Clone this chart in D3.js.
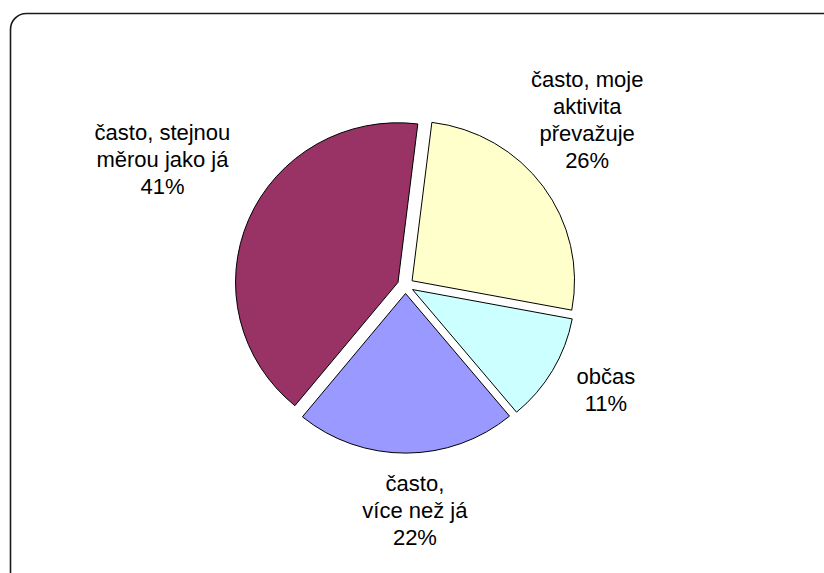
<!DOCTYPE html>
<html>
<head>
<meta charset="utf-8">
<script src="https://cdn.jsdelivr.net/npm/d3@7/dist/d3.min.js"></script>
<style>
  html, body { margin: 0; padding: 0; background: #fff; }
  svg { display: block; }
  text { font-family: "Liberation Sans", Arial, sans-serif; fill: #000; }
</style>
</head>
<body>
<svg id="chart" width="824" height="573"></svg>
<script>
// Slice categories, in drawing order (clockwise from the top)
const categories = [
  "často, moje aktivita převažuje",
  "občas",
  "často, více než já",
  "často, stejnou měrou jako já"
];
// Share of answers, percent
const values = [26, 11, 22, 41];
// Label text broken into lines
const labelLines = [
  ["často, moje", "aktivita", "převažuje"],
  ["občas"],
  ["často,", "více než já"],
  ["často, stejnou", "měrou jako já"]
];
const colors = ["#FFFFCC", "#CCFFFF", "#9999FF", "#993366"];

const width = 824, height = 573;
const cx = 405.5, cy = 285.5;
const radius = 159.6;
const stretchX = 1.018;          // pie is drawn very slightly wider than tall
const explode = 8;               // every slice is pulled out from the centre
const startDeg = 7;              // rotation of the first slice
const fontSize = 22, lineH = 26.8;

const svg = d3.select("#chart");

// outer rounded frame
svg.append("rect")
  .attr("x", 10.5).attr("y", 13.5)
  .attr("width", 830).attr("height", 575)
  .attr("rx", 16).attr("ry", 16)
  .attr("fill", "#fff")
  .attr("stroke", "#1a1a1a")
  .attr("stroke-width", 1.6);

const start = startDeg * Math.PI / 180;
const pie = d3.pie().sort(null).value(d => d)
  .startAngle(start).endAngle(start + 2 * Math.PI);
const arcs = pie(values);

const arc = d3.arc().innerRadius(0).outerRadius(radius);

const g = svg.append("g")
  .attr("transform", `translate(${cx},${cy}) scale(${stretchX},1)`);

g.selectAll("path")
  .data(arcs)
  .join("path")
  .attr("d", arc)
  .attr("transform", d => {
    const mid = (d.startAngle + d.endAngle) / 2;
    return `translate(${explode * Math.sin(mid)},${-explode * Math.cos(mid)})`;
  })
  .attr("fill", (d, i) => colors[i])
  .attr("stroke", "#000")
  .attr("stroke-width", 1)
  .attr("vector-effect", "non-scaling-stroke")
  .attr("stroke-linejoin", "miter");

// label block placement: distance from the centre and a small angular shift
const labelPlace = [
  { dist: 246, shift: -6.2 },
  { dist: 226, shift: -2.9 },
  { dist: 225, shift: -2.2 },
  { dist: 274, shift: 4.3 }
];

const labels = svg.append("g");
arcs.forEach((d, i) => {
  const mid = (d.startAngle + d.endAngle) / 2 + labelPlace[i].shift * Math.PI / 180;
  const bx = cx + labelPlace[i].dist * Math.sin(mid);
  const by = cy - labelPlace[i].dist * Math.cos(mid);
  const lines = labelLines[i].concat([d3.format(".0f")(d.value) + "%"]);
  const firstBase = by - (lines.length - 1) * lineH / 2 + fontSize * 0.358;
  const t = labels.append("text")
    .attr("text-anchor", "middle")
    .attr("font-size", fontSize);
  lines.forEach((ln, k) => {
    t.append("tspan")
      .attr("x", bx)
      .attr("y", firstBase + k * lineH)
      .text(ln);
  });
});
</script>
</body>
</html>
